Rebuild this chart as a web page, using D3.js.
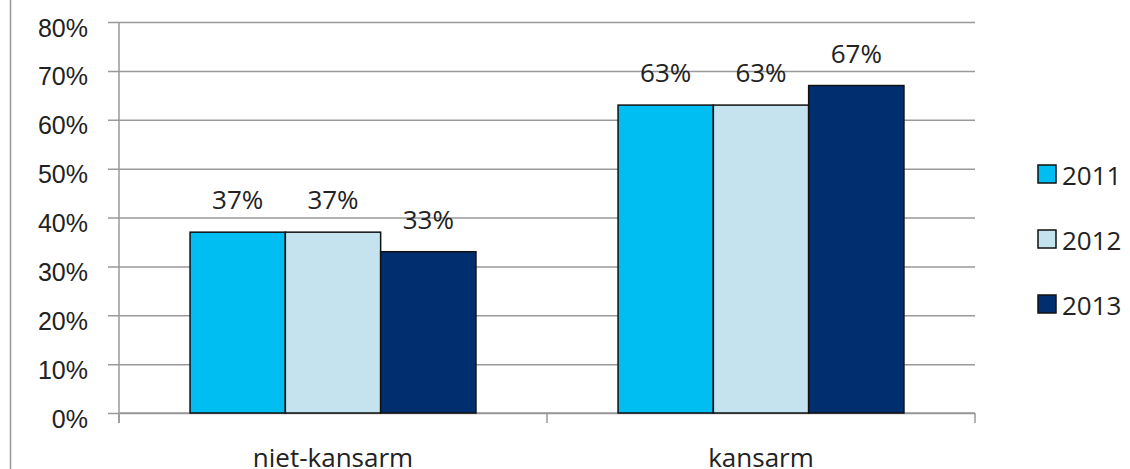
<!DOCTYPE html>
<html>
<head>
<meta charset="utf-8">
<script src="https://cdn.jsdelivr.net/npm/d3@7"></script>
<style>
  body { margin: 0; background: #fff; }
  svg { font-family: "Open Sans", Lato, sans-serif; }
</style>
</head>
<body>
<svg width="1130" height="469"></svg>
<script>
const categories = ["niet-kansarm", "kansarm"];
const years = ["2011", "2012", "2013"];
const values2011 = [37, 63];
const values2012 = [37, 63];
const values2013 = [33, 67];
const yTicks = [0, 10, 20, 30, 40, 50, 60, 70, 80];
const colors = ["#00BEF2", "#C4E3EE", "#002E6F"];

const svg = d3.select("svg");
const margin = {top: 22, right: 155, bottom: 56, left: 119};
const width = 1130 - margin.left - margin.right;
const height = 469 - margin.top - margin.bottom;

// left border of the chart frame
svg.append("line")
    .attr("x1", 10.5).attr("x2", 10.5)
    .attr("y1", 0).attr("y2", 469)
    .attr("stroke", "#999").attr("stroke-width", 1.5);

const g = svg.append("g").attr("transform", `translate(${margin.left},${margin.top})`);

const x0 = d3.scaleBand().domain(categories).range([0, width]).paddingInner(0.332).paddingOuter(0.166);
const x1 = d3.scaleBand().domain(years).range([0, x0.bandwidth()]);
const y = d3.scaleLinear().domain([0, 80]).range([height, 0]);

// gridlines + y axis
const yAxis = g.append("g")
    .call(d3.axisLeft(y).tickValues(yTicks).tickSize(-width).tickFormat(d => d + "%").tickPadding(31));
yAxis.select(".domain").remove();
yAxis.selectAll(".tick line").attr("stroke", "#999").attr("stroke-width", 1.5).attr("x1", -11);
yAxis.selectAll(".tick text").attr("font-size", 25).attr("fill", "#222").attr("dy", 14);

g.append("line")
    .attr("x1", 0).attr("x2", 0).attr("y1", 0).attr("y2", height + 10)
    .attr("stroke", "#999").attr("stroke-width", 1.5);

// x axis with ticks at category boundaries
const boundaries = [0, width / 2, width];
g.append("line")
    .attr("x1", 0).attr("x2", width).attr("y1", height).attr("y2", height)
    .attr("stroke", "#999").attr("stroke-width", 1.5);
g.selectAll(".xb").data(boundaries).join("line")
    .attr("x1", d => d).attr("x2", d => d)
    .attr("y1", height).attr("y2", height + 10)
    .attr("stroke", "#999").attr("stroke-width", 1.5);

g.selectAll(".catlabel").data(categories).join("text")
    .attr("x", d => x0(d) + x0.bandwidth() / 2)
    .attr("y", height + 54)
    .attr("text-anchor", "middle")
    .attr("font-size", 26)
    .attr("fill", "#222")
    .text(d => d);

const series = [values2011, values2012, values2013];
const groups = g.selectAll(".grp").data(categories).join("g")
    .attr("transform", d => `translate(${x0(d)},0)`);

groups.selectAll("rect").data((c, i) => years.map((yr, j) => ({yr, j, v: series[j][i]}))).join("rect")
    .attr("x", d => x1(d.yr))
    .attr("y", d => y(d.v))
    .attr("width", x1.bandwidth())
    .attr("height", d => height - y(d.v))
    .attr("fill", d => colors[d.j])
    .attr("stroke", "#111")
    .attr("stroke-width", 1.5);

groups.selectAll(".val").data((c, i) => years.map((yr, j) => ({yr, j, v: series[j][i]}))).join("text")
    .attr("x", d => x1(d.yr) + x1.bandwidth() / 2)
    .attr("y", d => y(d.v) - 23)
    .attr("text-anchor", "middle")
    .attr("font-size", 26)
    .attr("fill", "#222")
    .text(d => d.v + "%");

// legend
const legend = svg.append("g").attr("transform", "translate(1038,165)");
const items = legend.selectAll("g").data(years).join("g")
    .attr("transform", (d, i) => `translate(0,${i * 65})`);
items.append("rect")
    .attr("width", 18).attr("height", 18)
    .attr("fill", (d, i) => colors[i])
    .attr("stroke", "#111").attr("stroke-width", 1.5);
items.append("text")
    .attr("x", 24).attr("y", 20)
    .attr("font-size", 26)
    .attr("fill", "#222")
    .text(d => d);
</script>
</body>
</html>
